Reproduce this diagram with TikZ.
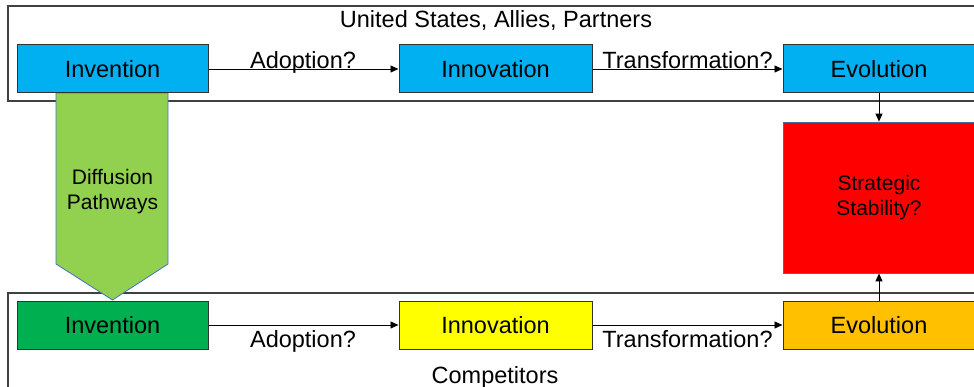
\documentclass[tikz,border=0pt]{standalone}
\usepackage{fontspec}
\setmainfont{Liberation Sans}
\usetikzlibrary{arrows.meta}
\definecolor{cblue}{HTML}{00B0F0}
\definecolor{cgreen}{HTML}{00B050}
\definecolor{cyellow}{HTML}{FFFF00}
\definecolor{corange}{HTML}{FFC000}
\definecolor{cred}{HTML}{FF0000}
\definecolor{clight}{HTML}{92D050}
\definecolor{cedge}{HTML}{4472C4}
\definecolor{credge}{HTML}{41719C}
\begin{document}
\begin{tikzpicture}[x=1pt,y=-1pt,
  box/.style={draw=black!80, line width=1pt, minimum width=191pt, minimum height=48pt, inner sep=0pt, font=\fontsize{23.5}{28}\selectfont},
  lbl/.style={font=\fontsize{23.5}{28}\selectfont, inner sep=0pt, anchor=base},
  small/.style={font=\fontsize{21}{25}\selectfont, align=center, inner sep=0pt},
  arr/.style={-{Triangle[length=8pt,width=7pt]}, line width=0.9pt},
  frame/.style={draw=black!75, line width=1.5pt}]
\useasboundingbox (0,0) rectangle (974,387);
\clip (0,0) rectangle (974,387);
% containers
\draw[frame] (8,6) rectangle (1000,101);
\draw[frame] (8,293) rectangle (1000,430);
\node[lbl] (us) at (496,28) {United States, Allies, Partners};
\node[lbl] (comp) at (495,383) {Competitors};
% diffusion arrow
\draw[fill=clight, draw=cedge, line width=0.8pt]
  (56,93) -- (168,93) -- (168,264) -- (112.5,300) -- (56,264) -- cycle;
\node[small] (diff) at (112.5,192) {Diffusion\\Pathways};
% strategic stability
\node[draw=credge, line width=0.8pt, fill=cred, minimum width=192pt, minimum height=151pt, small] (ss) at (879,197.5) {Strategic\\Stability?};
% top row
\node[box, fill=cblue] (i1) at (112.5,69) {Invention};
\node[box, fill=cblue, minimum width=193pt] (n1) at (495.5,69) {Innovation};
\node[box, fill=cblue, minimum width=192pt] (e1) at (879,69) {Evolution};
% bottom row
\node[box, fill=cgreen] (i2) at (112.5,325) {Invention};
\node[box, fill=cyellow, minimum width=193pt] (n2) at (495.5,325) {Innovation};
\node[box, fill=corange, minimum width=192pt] (e2) at (879,325) {Evolution};
% connectors
\draw[arr] (i1.east) -- (n1.west);
\draw[arr] (n1.east) -- (e1.west);
\draw[arr] (i2.east) -- (n2.west);
\draw[arr] (n2.east) -- (e2.west);
\draw[arr] (e1.south) -- (ss.north);
\draw[arr] (e2.north) -- (ss.south);
% labels
\node[lbl] (a1) at (303,69) {Adoption?};
\node[lbl] (t1) at (687.5,69) {Transformation?};
\node[lbl] (a2) at (303,347) {Adoption?};
\node[lbl] (t2) at (687.5,347) {Transformation?};
\end{tikzpicture}
\end{document}
